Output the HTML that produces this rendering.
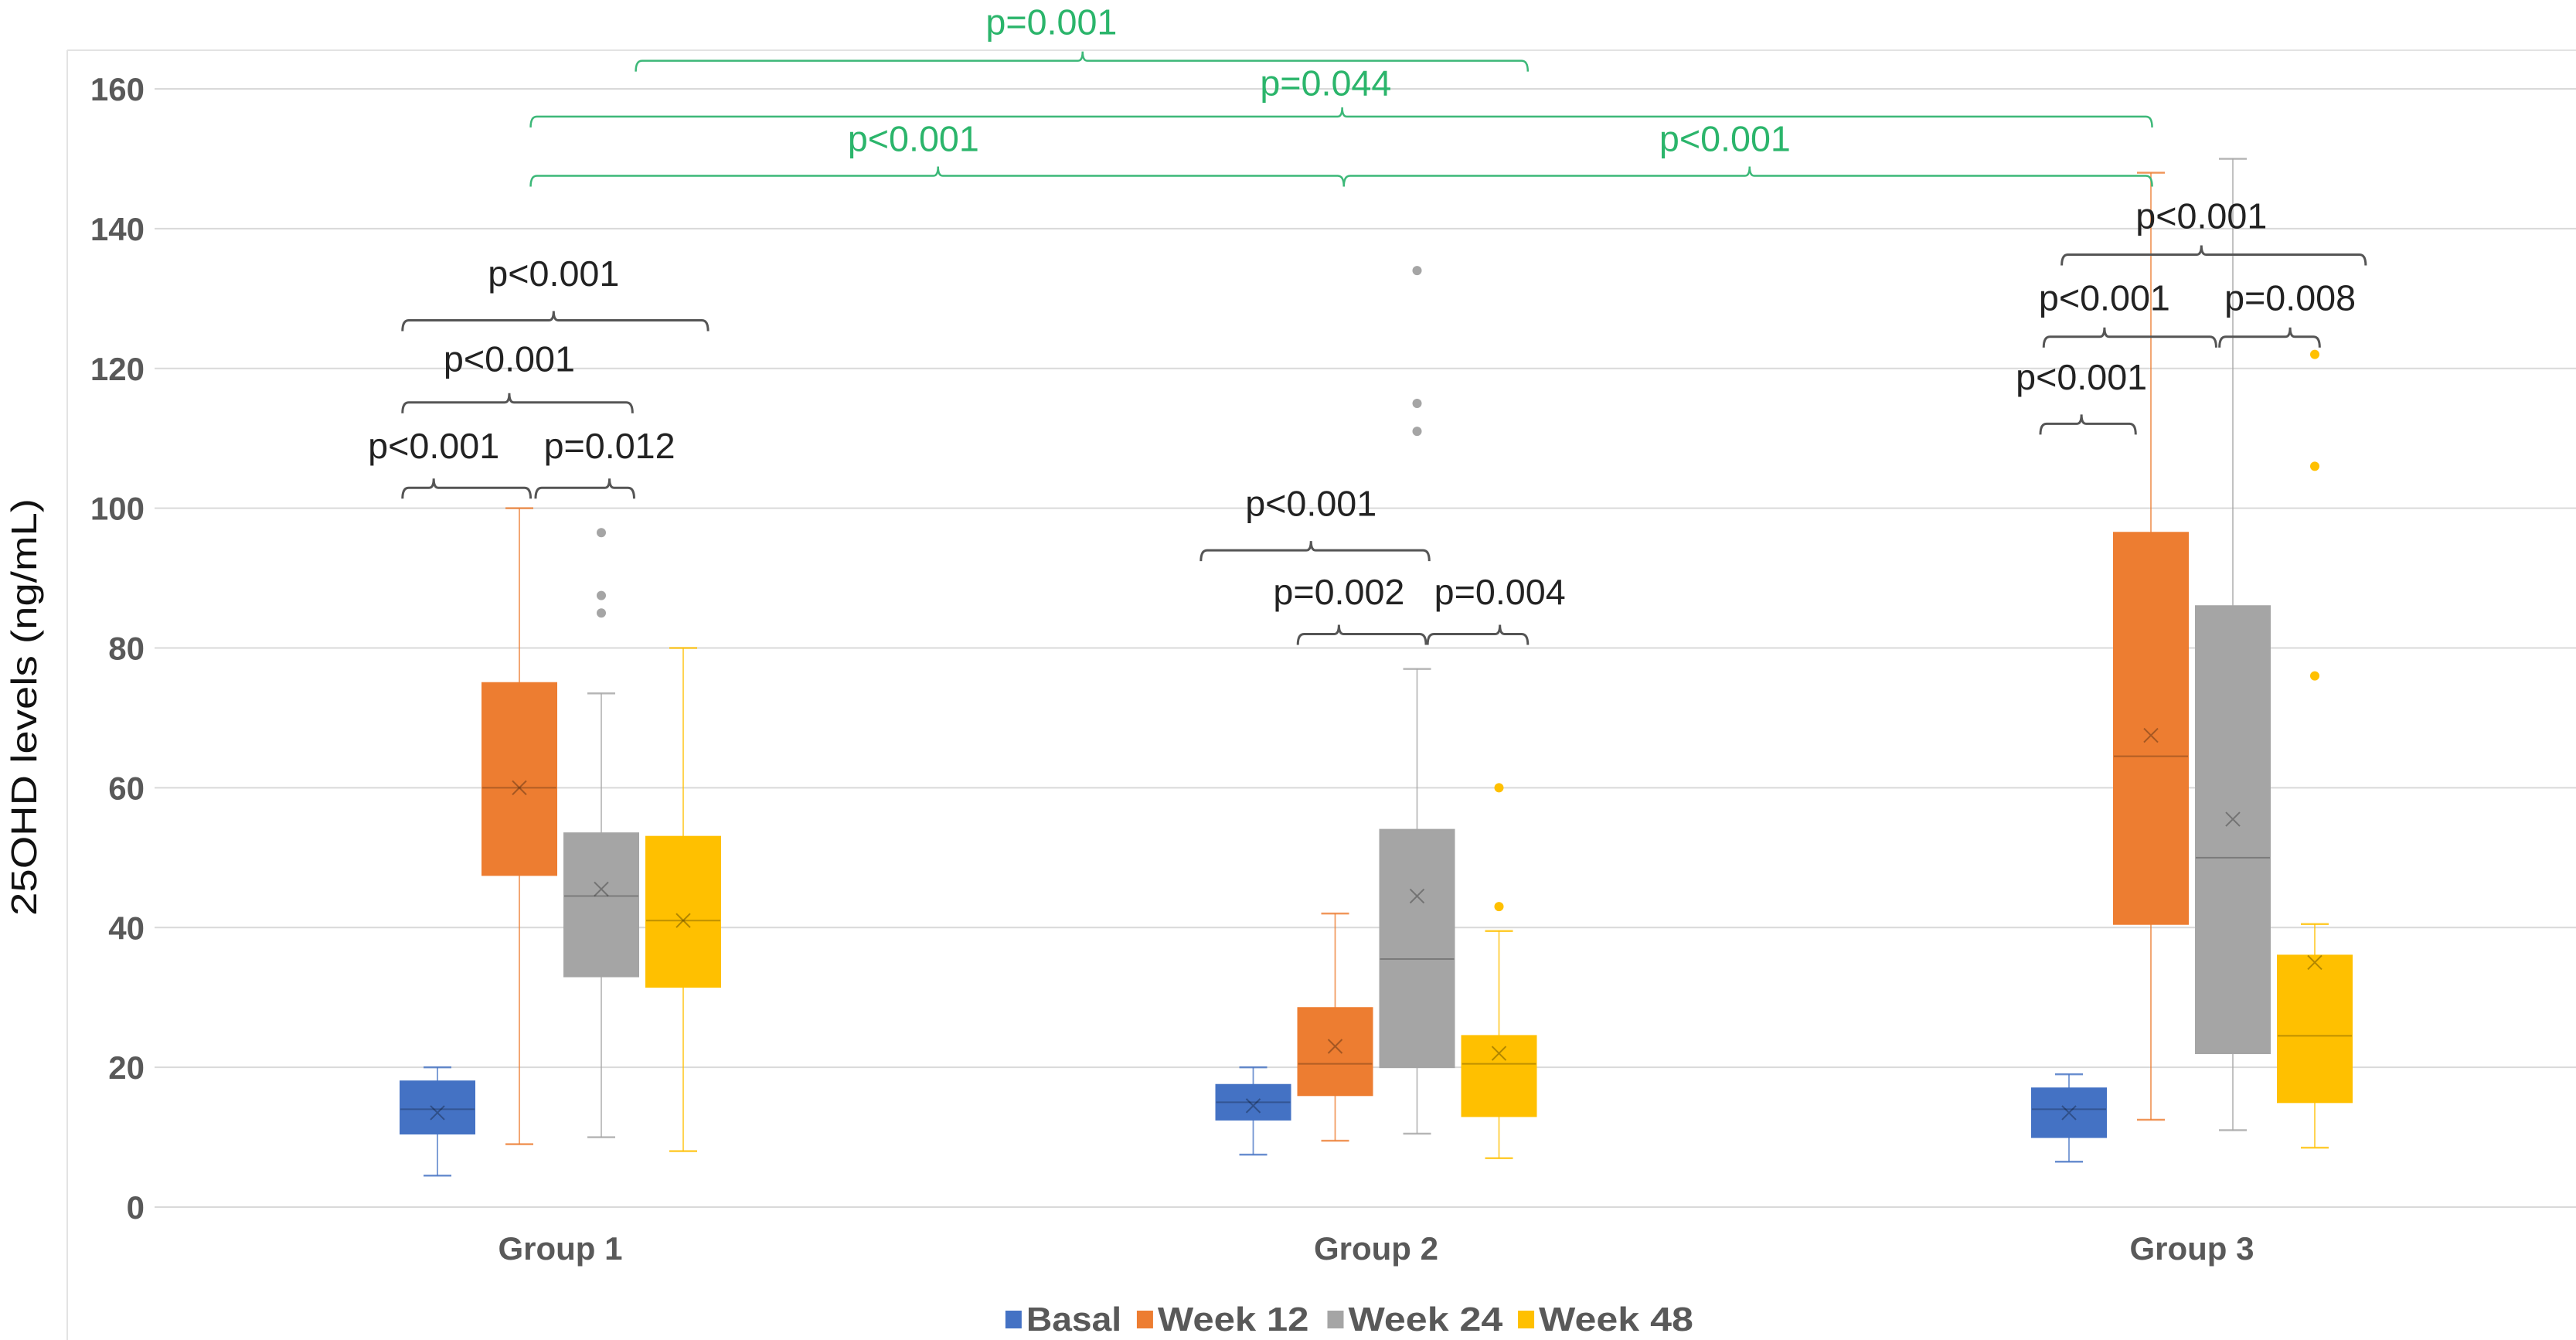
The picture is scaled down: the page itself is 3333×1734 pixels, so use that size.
<!DOCTYPE html>
<html><head><meta charset="utf-8"><style>
html,body{margin:0;padding:0;background:#fff;}
svg{display:block;font-family:"Liberation Sans",sans-serif;}
</style></head><body>
<svg id="chart" width="3333" height="1734" viewBox="0 0 3333 1734" xmlns="http://www.w3.org/2000/svg">
<rect width="3333" height="1734" fill="#fff"/>
<line x1="87" y1="65" x2="3333" y2="65" stroke="#e3e3e3" stroke-width="2"/>
<line x1="87" y1="65" x2="87" y2="1734" stroke="#e3e3e3" stroke-width="2"/>
<g id="grid"></g>
<g id="yticks"></g>
<text x="47" y="915" transform="rotate(-90 47 915)" text-anchor="middle" font-size="46" fill="#111" textLength="540" lengthAdjust="spacingAndGlyphs">25OHD levels (ng/mL)</text>
<g id="boxes"></g>
<g id="annots"></g>
<g id="legend"></g>
</svg>
<script>
const categories = ["Group 1","Group 2","Group 3"];
const seriesNames = ["Basal","Week 12","Week 24","Week 48"];
const colors = ["#4472C4","#ED7D31","#A5A5A5","#FFC000"];
const yTicks = [0,20,40,60,80,100,120,140,160];
// per series: [group1, group2, group3]
const whiskerLow = [[4.5,7.5,6.5],[9,9.5,12.5],[10,10.5,11],[8,7,8.5]];
const q1 = [[10.5,12.5,10],[47.5,16,40.5],[33,20,22],[31.5,13,15]];
const median = [[14,15,14],[60,20.5,64.5],[44.5,35.5,50],[41,20.5,24.5]];
const q3 = [[18,17.5,17],[75,28.5,96.5],[53.5,54,86],[53,24.5,36]];
const whiskerHigh = [[20,20,19],[100,42,148],[73.5,77,150],[80,39.5,40.5]];
const means = [[13.5,14.5,13.5],[60,23,67.5],[45.5,44.5,55.5],[41,22,35]];
const outliers = [[[],[],[]],[[],[],[]],[[96.5,87.5,85],[134,115,111],[]],[[],[60,43],[122,106,76]]];

const NS="http://www.w3.org/2000/svg";
const plotL=200, plotR=3333, y0=1562, y160=115;
const yS=v=>y0-(v/160)*(y0-y160);
const cx=i=>725+i*1055.5;
const sOff=s=>(s-1.5)*106;
const bw=96;
function mk(tag,attrs,parent){const e=document.createElementNS(NS,tag);for(const k in attrs)e.setAttribute(k,attrs[k]);parent.appendChild(e);return e;}

const grid=document.getElementById('grid'), yt=document.getElementById('yticks');
yTicks.forEach(t=>{
  const l=mk('line',{x1:plotL,x2:plotR,y1:yS(t),y2:yS(t),stroke:'#d9d9d9','stroke-width':2},grid);
  
  
  const tx=mk('text',{x:187,y:yS(t)+15,'text-anchor':'end','font-size':42,'font-weight':'bold',fill:'#595959'},yt);
  tx.textContent=t;
  
  
});

const bx=document.getElementById('boxes');
categories.forEach((c,g)=>{
  const lab=mk('text',{x:cx(g),y:1630,'text-anchor':'middle','font-size':42,'font-weight':'bold',fill:'#595959'},bx);
  lab.textContent=c;
  
  
  seriesNames.forEach((s,si)=>{
    const x=cx(g)+sOff(si), col=colors[si];
    const grp=mk('g',{},bx);
    
    
    mk('line',{x1:x,x2:x,y1:yS(whiskerHigh[si][g]),y2:yS(q3[si][g]),stroke:col,'stroke-width':1.8,opacity:0.75},grp);
    mk('line',{x1:x,x2:x,y1:yS(q1[si][g]),y2:yS(whiskerLow[si][g]),stroke:col,'stroke-width':1.8,opacity:0.75},grp);
    mk('line',{x1:x-18,x2:x+18,y1:yS(whiskerHigh[si][g]),y2:yS(whiskerHigh[si][g]),stroke:col,'stroke-width':2.5,opacity:0.8},grp);
    mk('line',{x1:x-18,x2:x+18,y1:yS(whiskerLow[si][g]),y2:yS(whiskerLow[si][g]),stroke:col,'stroke-width':2.5,opacity:0.8},grp);
    mk('rect',{x:x-bw/2,y:yS(q3[si][g]),width:bw,height:yS(q1[si][g])-yS(q3[si][g]),fill:col,stroke:col,'stroke-width':2},grp);
    mk('line',{x1:x-bw/2,x2:x+bw/2,y1:yS(median[si][g]),y2:yS(median[si][g]),stroke:'rgba(0,0,0,0.25)','stroke-width':2},grp);
    const my=yS(means[si][g]);
    mk('path',{d:`M${x-9} ${my-9}L${x+9} ${my+9}M${x+9} ${my-9}L${x-9} ${my+9}`,stroke:'rgba(0,0,0,0.3)','stroke-width':2},grp);
    outliers[si][g].forEach(v=>{
      const o=mk('circle',{cx:x,cy:yS(v),r:6,fill:col},grp);
      
      
    });
  });
});

// annotations (small-image coords * k): x1, x2, y, tickX, textX, textY, label, green
const k=2.1256;
const brackets=[
 [245,323,297,264,264,271,"p<0.001",0],[326,386,297,371,371,271,"p=0.012",0],[245,385,245,310,310,218,"p<0.001",0],[245,431,195,337,337,166,"p<0.001",0],
 [731,870,335,798,798,306,"p<0.001",0],[790,868,386,815,815,360,"p=0.002",0],[869,930,386,913,913,360,"p=0.004",0],
 [1242,1300,258,1267,1267,229,"p<0.001",0],[1244,1349,205,1281,1281,181,"p<0.001",0],[1351,1412,205,1394,1394,181,"p=0.008",0],[1255,1440,155,1340,1340,131,"p<0.001",0],
 [387,930,37,659,640,13,"p=0.001",1],[323,1310,71,817,807,50,"p=0.044",1],[323,818,107,571,556,84,"p<0.001",1],[818,1310,107,1065,1050,84,"p<0.001",1]
];
const an=document.getElementById('annots');
brackets.forEach((b,i)=>{
  const [a,bb,y,tc,tx,ty,txt,green]=b;
  const col=green?'#2bb56b':'#222';
  const X1=a*k,X2=bb*k,Y=y*k,T=tc*k;
  const g=mk('g',{},an);
  
  
  mk('path',{d:`M${X1} ${Y+14}Q${X1} ${Y} ${X1+8} ${Y}L${T-6} ${Y}Q${T} ${Y} ${T} ${Y-12}Q${T} ${Y} ${T+6} ${Y}L${X2-8} ${Y}Q${X2} ${Y} ${X2} ${Y+14}`,fill:'none',stroke:green?'#3cb878':'#555','stroke-width':green?2.5:3},g);
  const t=mk('text',{x:tx*k,y:ty*k+17,'text-anchor':'middle','font-size':46,fill:col,textLength:170,lengthAdjust:'spacingAndGlyphs'},g);
  t.textContent=txt;
});

const lg=document.getElementById('legend');
const lx=[612,692,808,924];
seriesNames.forEach((s,i)=>{
  const g=mk('g',{},lg);
  
  
  mk('rect',{x:lx[i]*k,y:1696,width:21,height:23,fill:colors[i]},g);
  const t=mk('text',{x:lx[i]*k+27,y:1722,'font-size':44,'font-weight':'bold',fill:'#595959',textLength:[58,92,94,94][i]*k,lengthAdjust:'spacingAndGlyphs'},g);
  t.textContent=s;
});
</script>
</body></html>
